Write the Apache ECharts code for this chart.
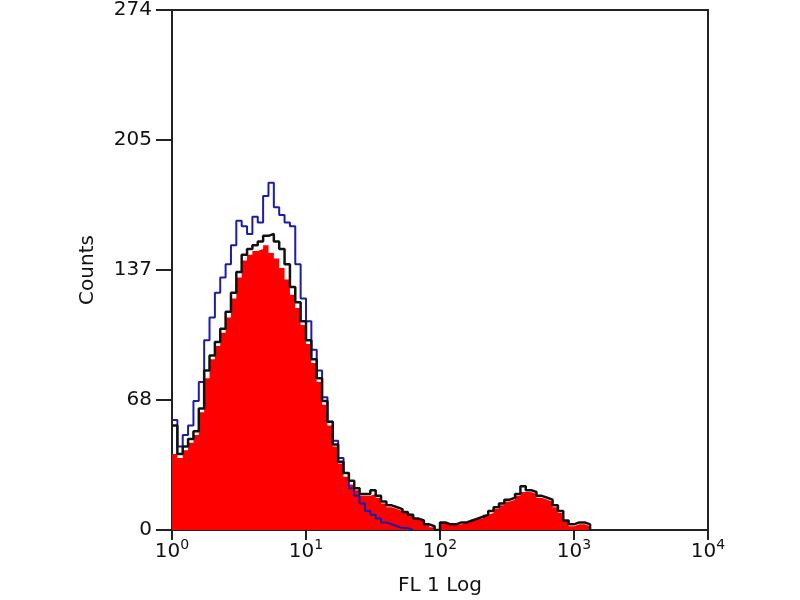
<!DOCTYPE html>
<html>
<head>
<meta charset="utf-8">
<script src="https://cdn.jsdelivr.net/npm/echarts@6/dist/echarts.min.js"></script>
<style>html,body{margin:0;padding:0;background:#fff}#c{width:800px;height:600px}</style>
</head>
<body>
<div id="c"></div>
<script>
// Histogram bins: log10 channel position of bin i = binStart + i * binWidth
var binStart = 0;
var binWidth = 0.04;
// red filled histogram
var redCounts = [40,38,42,46,50,62,80,90,97,104,112,122,133,142,145,147,148,150,146,143,138,132,124,117,108,98,88,78,66,55,44,35,28,24,21,18,18,19,17,14,12,11,10,9,8,6,5,3,1.5,0,4,3,3,3,4,5,6,6,8,9,11,13,15,16,18,20,20,19,17,16,15,12,9,5,2,3,3,2,0];
// black outline histogram
var blackCounts = [55,40,44,48,52,64,84,92,99,106,115,125,136,145,148,150,152,155,156,152,148,140,128,120,110,100,90,80,68,57,45,36,30,26,22,19,19,21,18,15,13,12,11,9.5,8,6,5,3,2,0,4,3,3,4,4,5,6,7,8,10,12,14,16,17,19,23,21,20,18,17,16,13,10,5,3,4,4,3,0];
// blue outline histogram
var blueCounts = [58,44,50,55,68,78,100,112,125,133,140,150,163,160,156,165,162,176,183,170,166,162,160,140,122,110,95,84,70,57,47,38,30,22,18,14,10,8,6,4,3,2,1,1,0,0];
var yTicks = [0, 68, 137, 205, 274];
var xDecades = ['0', '1', '2', '3', '4'];

function pairs(arr) {
  var out = [];
  for (var i = 0; i < arr.length; i++) {
    out.push([Math.pow(10, binStart + i * binWidth), arr[i]]);
  }
  return out;
}

var font = 'DejaVu Sans, Liberation Sans, sans-serif';
var chart = echarts.init(document.getElementById('c'));
chart.setOption({
  backgroundColor: '#fff',
  animation: false,
  grid: {left: 172, right: 92, top: 10, bottom: 70, containLabel: false, outerBoundsMode: 'none',
         show: true, borderColor: '#222', borderWidth: 2, backgroundColor: 'transparent'},
  xAxis: {
    type: 'log', logBase: 10, min: 1, max: 10000,
    name: 'FL 1 Log', nameLocation: 'middle', nameGap: 46,
    nameTextStyle: {fontFamily: font, fontSize: 20, color: '#111'},
    axisLine: {show: true, lineStyle: {color: '#222', width: 2}},
    axisTick: {show: true, inside: false, length: 10, lineStyle: {color: '#222', width: 2}},
    minorTick: {show: false},
    splitLine: {show: false},
    axisLabel: {
      margin: 8,
      formatter: function (v) {
        var n = Math.round(Math.log10(v));
        return '{b|10}{s|' + xDecades[n] + '}';
      },
      rich: {
        b: {fontFamily: font, fontSize: 20, color: '#111', lineHeight: 24, verticalAlign: 'bottom'},
        s: {fontFamily: font, fontSize: 14, color: '#111', lineHeight: 24, verticalAlign: 'top'}
      }
    }
  },
  yAxis: {
    type: 'value', min: 0, max: 274, interval: 68.5,
    name: 'Counts', nameLocation: 'middle', nameGap: 74, nameRotate: 90,
    nameTextStyle: {fontFamily: font, fontSize: 20, color: '#111'},
    axisLine: {show: true, lineStyle: {color: '#222', width: 2}},
    axisTick: {show: true, length: 16, lineStyle: {color: '#222', width: 2}},
    splitLine: {show: false},
    axisLabel: {
      fontFamily: font, fontSize: 20, color: '#111', margin: 20,
      formatter: function (v) { return String(Math.floor(v)); }
    }
  },
  series: [
    {
      type: 'line', step: 'end', symbol: 'none', data: pairs(redCounts),
      lineStyle: {width: 0, color: '#ff0000'},
      areaStyle: {color: '#ff0000', opacity: 1}, z: 2
    },
    {
      type: 'line', step: 'end', symbol: 'none', data: pairs(blueCounts),
      lineStyle: {width: 2, color: '#1c1ca8'}, z: 3
    },
    {
      type: 'line', step: 'end', symbol: 'none', data: pairs(blackCounts),
      lineStyle: {width: 2.5, color: '#111111'}, z: 4
    }
  ]
});
</script>
</body>
</html>
